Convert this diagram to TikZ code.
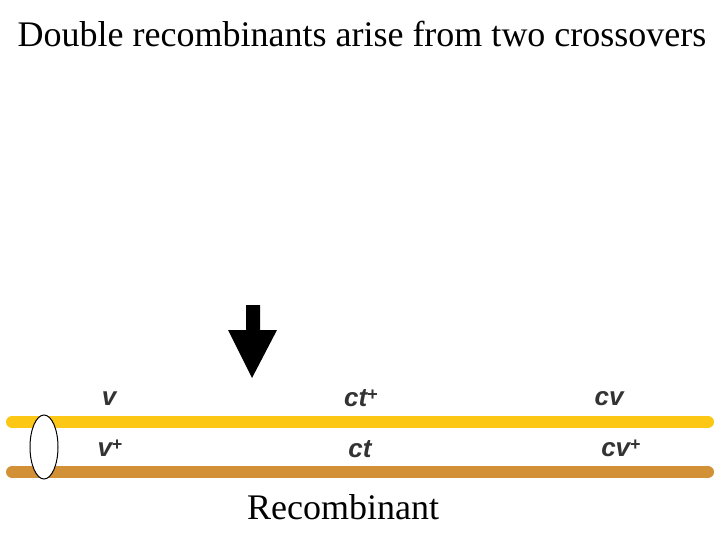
\documentclass[tikz,border=0pt]{standalone}
\usepackage{fontspec}
\setmainfont{Liberation Serif}
\newfontfamily\lblfont{Liberation Sans}
\usetikzlibrary{shapes.geometric}
\newcommand{\pls}{\raisebox{0.45ex}{\fontsize{18}{20}\selectfont\upshape +}}
\begin{document}
\begin{tikzpicture}[x=1pt,y=-1pt,
  lbl/.style={font=\lblfont\bfseries\itshape\fontsize{26}{28}\selectfont, text=black!80, inner sep=0},
  ttl/.style={font=\fontsize{36}{40}\selectfont, inner sep=0}]
\useasboundingbox (0,0) rectangle (720,540);
\definecolor{yel}{HTML}{FCC715}
\definecolor{brn}{HTML}{D39137}
\node[ttl] (title) at (362,34) {Double recombinants arise from two crossovers};
\coordinate (y1) at (12,422); \coordinate (y2) at (708,422);
\coordinate (b1) at (12,472); \coordinate (b2) at (708,472);
\draw[yel, line width=12, line cap=round] (y1) -- (y2);
\draw[brn, line width=12, line cap=round] (b1) -- (b2);
\node[draw, fill=white, ellipse, minimum width=28, minimum height=64, inner sep=0, line width=1] (cen) at (44,447) {};
\node[lbl] (v) at (109,399) {v};
\node[lbl] (ctp) at (361,398) {ct\pls};
\node[lbl] (cv) at (609,399) {cv};
\node[lbl] (vp) at (110,448) {v\pls};
\node[lbl] (ct) at (360,449) {ct};
\node[lbl] (cvp) at (621,448) {cv\pls};
\fill[black] (246,305) -- (260,305) -- (260,330) -- (277,330) -- (252,378) -- (228,330) -- (246,330) -- cycle;
\node[ttl] (rec) at (343,507) {Recombinant};
\end{tikzpicture}
\end{document}
